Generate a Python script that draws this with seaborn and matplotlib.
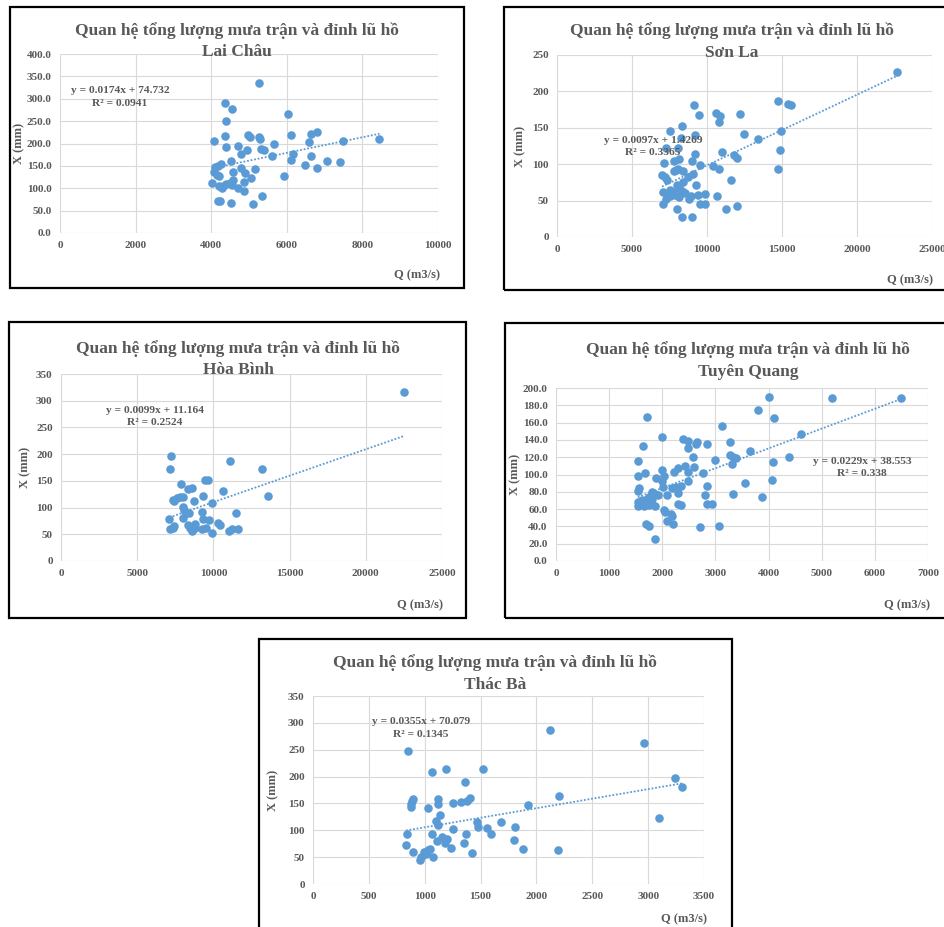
import numpy as np
import pandas as pd
import matplotlib
matplotlib.use("Agg")
import matplotlib.pyplot as plt
import matplotlib.patches as mpatches
from matplotlib.ticker import FormatStrFormatter
import seaborn as sns

# ---- data (Q in m3/s, X in mm) ----
lai_chau_q = [5269, 4367, 4553, 4402, 6020, 4075, 4376, 4402, 4712, 4968, 5039, 5269,
              5304, 6108, 6639, 6807, 6586, 5666, 7496, 8451, 4959, 4800, 5330, 5392,
              5605, 6170, 6108, 6639, 6480, 6789, 7072, 7408, 4535, 4270, 4093, 4181,
              4066, 4154, 4208, 4579, 4800, 4888, 5154, 5923, 4013, 4208, 4314, 4385,
              4288, 4490, 4579, 4561, 4721, 4862, 4871, 5065, 5339, 4181, 4243, 4517, 5110]
lai_chau_x = [336, 291, 277, 250, 266, 205, 217, 193, 195, 220, 214, 214,
              211, 220, 222, 226, 204, 200, 205, 211, 185, 176, 188, 185,
              173, 176, 163, 172, 153, 145, 161, 159, 161, 155, 147, 149,
              137, 130, 127, 137, 146, 134, 143, 127, 112, 104, 106, 109,
              100, 112, 118, 108, 100, 114, 94, 122, 82, 71, 71, 66, 64]

son_la_q = [22689, 9155, 14755, 15400, 15577, 9488, 10577, 10888, 10800, 12177, 8333,
            7533, 9177, 12466, 13377, 14955, 14888, 14755, 10977, 11800, 11977, 8266,
            7266, 8066, 9177, 8111, 7800, 8977, 7155, 9555, 10400, 10800, 7910, 8044,
            7800, 8400, 7000, 7222, 7310, 8733, 9044, 11577, 8422, 8000, 9266, 7044,
            7555, 7711, 8111, 8333, 8555, 7889, 7555, 7266, 8111, 8777, 8955, 9400,
            9888, 10666, 7088, 9533, 9844, 11244, 12022, 8000, 8333, 9022]
son_la_x = [226, 182, 187, 183, 182, 167, 170, 166, 158, 169, 152,
            145, 140, 142, 135, 146, 119, 94, 117, 113, 108, 136,
            122, 122, 114, 107, 104, 105, 101, 99, 97, 94, 92, 94,
            90, 91, 85, 82, 78, 83, 86, 78, 75, 71, 71, 62,
            65, 62, 67, 63, 60, 58, 56, 52, 55, 52, 56, 58,
            59, 56, 45, 45, 46, 39, 43, 38, 27, 28]

hoa_binh_q = [22482, 7239, 7173, 11088, 13188, 13581, 9426, 9623, 7895, 8617, 8332,
              10607, 7392, 7349, 7611, 7830, 8026, 9295, 8726, 7982, 9929, 8092, 8223,
              8376, 9229, 7108, 8026, 9316, 9688, 11504, 10279, 10410, 8813, 8332, 7327,
              7173, 7436, 8485, 8617, 8770, 9229, 9535, 9885, 11000, 11219, 11635]
hoa_binh_x = [317, 197, 172, 188, 172, 122, 151, 151, 145, 137, 135,
              131, 112, 115, 117, 119, 120, 122, 112, 101, 109, 95, 89,
              90, 92, 79, 81, 79, 76, 89, 72, 67, 69, 68, 62,
              60, 65, 62, 56, 62, 59, 62, 53, 56, 60, 59]

tuyen_quang_q = [6493, 5185, 4014, 3801, 4108, 3125, 4615, 1709, 2004, 2398, 2480, 2649,
                 2642, 2837, 3275, 2480, 1634, 3651, 4377, 4083, 4058, 3268, 3325, 3388,
                 3319, 2987, 2580, 1540, 2436, 2605, 2480, 2298, 2223, 2768, 1991, 2029,
                 1540, 1678, 2480, 1998, 2016, 2348, 2260, 2179, 2843, 3557, 1878, 1553,
                 1540, 2292, 2098, 2805, 3325, 3882, 1803, 1866, 1916, 1753, 1803, 1709,
                 1615, 1540, 1678, 1540, 1647, 1741, 1866, 2304, 2354, 2837, 2943, 2041,
                 2054, 2173, 2192, 2210, 2098, 1697, 1741, 2718, 3068, 1872]
tuyen_quang_x = [188, 188, 190, 174, 165, 156, 147, 167, 143, 141, 139, 138,
                 135.5, 135, 137, 131, 133, 127, 120, 114, 94, 122, 120, 119,
                 112, 117, 120, 116, 110, 109, 103, 107, 103, 102, 105, 98,
                 98, 101.5, 93, 93, 85, 87, 85, 84, 87, 89.6, 96, 84,
                 81, 79, 76, 76, 78, 74, 80, 78, 76, 74.5, 72, 72,
                 70, 68, 67.5, 64, 64, 65, 64, 66, 65, 66, 66, 59,
                 57, 54, 52.5, 42.5, 46, 43, 40, 39, 41, 26]

thac_ba_q = [2124, 2965, 850, 1194, 1524, 1067, 1364, 3241, 3301, 2202, 3093, 1925,
             894, 888, 879, 876, 1123, 1117, 1254, 1325, 1379, 1402, 1025, 1135,
             1105, 1120, 1254, 1465, 1477, 1554, 1595, 1682, 1812, 844, 1067, 1373,
             1156, 1114, 1203, 1182, 1233, 1349, 1795, 832, 897, 1884, 2193, 1423,
             998, 1031, 1049, 1010, 971, 960, 1076]
thac_ba_x = [287, 262, 248, 215, 213.5, 208.5, 189, 197, 180, 163, 122, 147,
             159, 154.5, 149, 143, 159, 149, 150, 153, 154.5, 161, 142, 129,
             117, 110.5, 103, 115.5, 105.5, 104, 94, 115.5, 106, 92.5, 92.5, 92.5,
             88, 80, 83, 77, 67.7, 75.7, 82, 72, 60, 64.5, 63, 57.7,
             60, 63, 65, 56, 51, 44, 51]

stations = ["Lai Châu", "Sơn La", "Hòa Bình", "Tuyên Quang", "Thác Bà"]
slopes = [0.0174, 0.0097, 0.0099, 0.0229, 0.0355]
intercepts = [74.732, 1.4269, 11.164, 38.553, 70.079]
eq_labels = ["y = 0.0174x + 74.732\nR² = 0.0941",
             "y = 0.0097x + 1.4269\nR² = 0.3365",
             "y = 0.0099x + 11.164\nR² = 0.2524",
             "y = 0.0229x + 38.553\nR² = 0.338",
             "y = 0.0355x + 70.079\nR² = 0.1345"]
x_limits = [10000, 25000, 25000, 7000, 3500]
x_steps = [2000, 5000, 5000, 1000, 500]
y_limits = [400, 250, 350, 200, 350]
y_steps = [50, 50, 50, 20, 50]
y_formats = ["%.1f", "%d", "%d", "%.1f", "%d"]

series = [(lai_chau_q, lai_chau_x), (son_la_q, son_la_x), (hoa_binh_q, hoa_binh_x),
          (tuyen_quang_q, tuyen_quang_x), (thac_ba_q, thac_ba_x)]

# ---- layout in pixels of the 944x927 picture ----
W, H = 944, 927
boxes = [(10, 7, 464, 288), (504, 7, 962, 290), (9, 322, 466, 618),
         (505, 323, 962, 618), (259, 639, 732, 945)]
axes_px = [(60, 54, 438, 233), (557, 55, 932, 237), (61, 374, 442, 561),
           (556, 388, 928, 561), (313, 696, 704, 884)]
title_px = [(237, 31, 52), (732, 31, 53), (238, 349, 370), (748, 350, 372), (495, 663, 685)]
xlabel_px = [(440, 275), (933, 280), (443, 605), (930, 605), (707, 919)]
ylabel_px = [(19, 143), (520, 146), (25, 467), (515, 474), (273, 790)]
eq_pos = [(0.159, 0.76), (0.256, 0.497), (0.247, 0.772), (0.823, 0.54), (0.276, 0.83)]

BLUE = "#5B9BD5"
GREY = "#595959"
GRID = "#D9D9D9"


def fx(x):
    return x / W


def fy(y):
    return 1 - y / H


def main():
    sns.set_theme(style="white")
    plt.rcParams["font.family"] = ["Liberation Serif", "DejaVu Serif"]
    plt.rcParams["font.weight"] = "bold"

    fig = plt.figure(figsize=(W / 100, H / 100), dpi=100)

    for i, name in enumerate(stations):
        q, x = series[i]
        df = pd.DataFrame({"Q": q, "X": x})

        # panel frame
        x0, y0, x1, y1 = boxes[i]
        fig.patches.append(mpatches.Rectangle((fx(x0), fy(y1)), fx(x1 - x0), (y1 - y0) / H,
                                              transform=fig.transFigure, fill=False,
                                              edgecolor="black", linewidth=1.6, zorder=0))

        l, t, r, b = axes_px[i]
        ax = fig.add_axes([fx(l), fy(b), fx(r - l), (b - t) / H])
        ax.set_facecolor("none")

        sns.scatterplot(data=df, x="Q", y="X", ax=ax, color=BLUE, s=38,
                        edgecolor=BLUE, linewidth=0, zorder=3, clip_on=False)

        # linear trend line from the equation shown on the chart
        q_line = np.array([min(q), max(q)])
        sns.lineplot(x=q_line, y=slopes[i] * q_line + intercepts[i], ax=ax,
                     color=BLUE, linestyle=(0, (1, 1)), linewidth=1.3, zorder=2)

        ax.set_xlim(0, x_limits[i])
        ax.set_ylim(0, y_limits[i])
        ax.set_xticks(np.arange(0, x_limits[i] + 1, x_steps[i]))
        ax.set_yticks(np.arange(0, y_limits[i] + 0.1, y_steps[i]))
        ax.yaxis.set_major_formatter(FormatStrFormatter(y_formats[i]))
        ax.grid(True, color=GRID, linewidth=0.8)
        ax.set_axisbelow(True)
        for sp in ax.spines.values():
            sp.set_visible(False)
        ax.tick_params(length=0, labelsize=8, labelcolor=GREY, pad=6)
        for lab in ax.get_xticklabels() + ax.get_yticklabels():
            lab.set_fontweight("bold")
        ax.set_xlabel("")
        ax.set_ylabel("")

        ax.text(eq_pos[i][0], eq_pos[i][1], eq_labels[i], transform=ax.transAxes,
                ha="center", va="center", multialignment="center",
                fontsize=8.2, fontweight="bold", color=GREY, linespacing=1.45)

        cx, ty1, ty2 = title_px[i]
        fig.text(fx(cx), fy(ty1), "Quan hệ tổng lượng mưa trận và đỉnh lũ hồ",
                 ha="center", va="center", fontsize=12.5, fontweight="bold", color=GREY)
        fig.text(fx(cx), fy(ty2), name, ha="center", va="center",
                 fontsize=12.5, fontweight="bold", color=GREY)

        xr, xy = xlabel_px[i]
        fig.text(fx(xr), fy(xy), "Q (m3/s)", ha="right", va="center",
                 fontsize=9, fontweight="bold", color=GREY)
        yx, yy = ylabel_px[i]
        fig.text(fx(yx), fy(yy), "X (mm)", ha="center", va="center", rotation=90,
                 fontsize=9, fontweight="bold", color=GREY)

    fig.savefig("out.png", dpi=100)
    plt.close(fig)


if __name__ == "__main__":
    main()
